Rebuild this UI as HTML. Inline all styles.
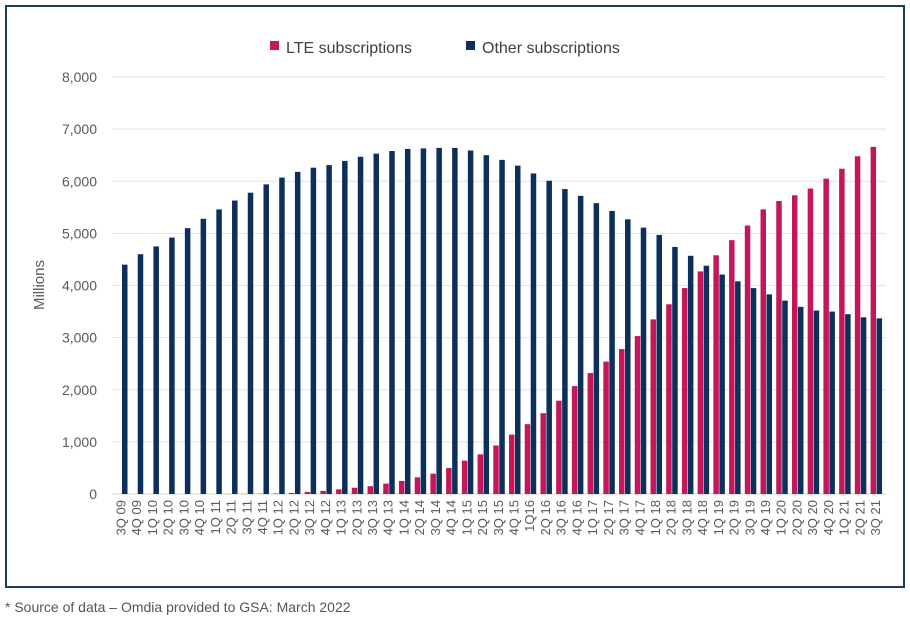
<!DOCTYPE html>
<html><head><meta charset="utf-8"><style>
body{margin:0;background:#fff;font-family:"Liberation Sans",sans-serif;}
</style></head><body>
<svg id="chart" width="910" height="626" xmlns="http://www.w3.org/2000/svg">
<rect x="6" y="6" width="898" height="581" fill="#fff" stroke="#1f3a5f" stroke-width="2"/>
<g id="grid"></g><g id="bars"></g><g id="xl"></g>
<text x="44" y="285" transform="rotate(-90 44 285)" text-anchor="middle" font-size="15" fill="#595959">Millions</text>
<g>
<rect x="270" y="41" width="9" height="9" fill="#c2185b"/>
<text x="286" y="53" font-size="16" fill="#404040">LTE subscriptions</text>
<rect x="466" y="41" width="9" height="9" fill="#0d2f5c"/>
<text x="482" y="53" font-size="16" fill="#404040">Other subscriptions</text>
</g>
<text x="5" y="612" font-size="14" fill="#555">* Source of data – Omdia provided to GSA: March 2022</text>
</svg>
<script>
const categories=["3Q 09","4Q 09","1Q 10","2Q 10","3Q 10","4Q 10","1Q 11","2Q 11","3Q 11","4Q 11","1Q 12","2Q 12","3Q 12","4Q 12","1Q 13","2Q 13","3Q 13","4Q 13","1Q 14","2Q 14","3Q 14","4Q 14","1Q 15","2Q 15","3Q 15","4Q 15","1Q16","2Q 16","3Q 16","4Q 16","1Q 17","2Q 17","3Q 17","4Q 17","1Q 18","2Q 18","3Q 18","4Q 18","1Q 19","2Q 19","3Q 19","4Q 19","1Q 20","2Q 20","3Q 20","4Q 20","1Q 21","2Q 21","3Q 21"];
const lteValues=[0,0,0,0,0,0,0,2,3,5,10,20,40,60,90,120,150,200,250,320,390,500,640,760,930,1140,1340,1550,1790,2070,2320,2540,2780,3030,3350,3640,3950,4270,4580,4870,5150,5460,5620,5730,5860,6050,6240,6480,6660];
const otherValues=[4400,4600,4750,4920,5100,5280,5460,5630,5780,5940,6070,6180,6260,6310,6390,6470,6530,6580,6620,6630,6640,6640,6590,6500,6410,6300,6150,6010,5850,5720,5580,5430,5270,5110,4970,4740,4570,4380,4210,4080,3950,3830,3710,3590,3520,3500,3450,3390,3370];
const yTicks=[0,1000,2000,3000,4000,5000,6000,7000,8000];
const NS="http://www.w3.org/2000/svg";
const y=v=>494-v*417/8000;
const x=i=>122+i*15.72;
function mk(t,a,p){const e=document.createElementNS(NS,t);for(const k in a)e.setAttribute(k,a[k]);p.appendChild(e);return e;}
const g=document.getElementById('grid'),b=document.getElementById('bars'),xl=document.getElementById('xl');
yTicks.forEach(v=>{
 const l=mk('line',{x1:112,x2:886,y1:y(v),y2:y(v),stroke:v?'#e3e3e3':'#d0d0d0','stroke-width':1},g);
 
 
 const t=mk('text',{x:97,y:y(v)+5,'text-anchor':'end','font-size':14,fill:'#595959'},g);
 
 
 t.textContent=v.toLocaleString('en-US');
});
categories.forEach((c,i)=>{
 const r1=mk('rect',{x:x(i)-6,y:y(lteValues[i]),width:5.5,height:494-y(lteValues[i]),fill:'#c2185b'},b);
 
 
 const r2=mk('rect',{x:x(i),y:y(otherValues[i]),width:5.5,height:494-y(otherValues[i]),fill:'#0d2f5c'},b);
 
 
 const cx=x(i)-1, cy=500;
 const t=mk('text',{x:cx,y:cy,transform:`rotate(-90 ${cx} ${cy})`,'text-anchor':'end','font-size':13,fill:'#595959'},xl);
 
 
 t.setAttribute('dy','4.5');
 t.textContent=c;
});
</script>
</body></html>
